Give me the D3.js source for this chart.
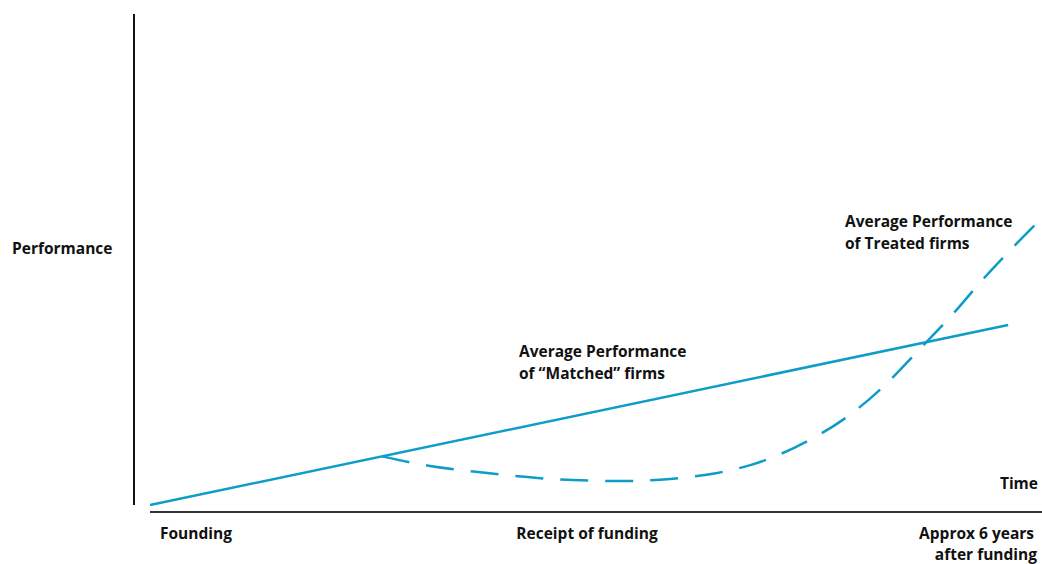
<!DOCTYPE html>
<html><head><meta charset="utf-8">
<script src="https://cdn.jsdelivr.net/npm/d3@7"></script>
<style>
body{margin:0;background:#fff;}
text{font-family:"Open Sans",sans-serif;font-weight:700;font-size:15.5px;fill:#111;}
</style></head>
<body><svg id="c" width="1042" height="564"></svg>
<script>
// Schematic data (abstract units: time 0..100, performance 0..100)
const matchedTime = [0, 96.2];
const matchedPerf = [0, 60];
const treatedTime = [26.0, 31.4, 36.8, 42.3, 47.4, 52.9, 58.3, 63.6, 67.3, 73.7, 78.3, 82.4, 86.3, 89.9, 93.4, 97.2, 100];
const treatedPerf = [16.2, 13.0, 11.0, 9.3, 8.3, 8.0, 8.7, 10.7, 13.3, 21.3, 29.7, 40.0, 52.0, 63.3, 75.3, 87.3, 95.7];
const xTickLabels = ["Founding", "Receipt of funding", "Approx 6 years|after funding"];

const svg = d3.select("#c");
const x = d3.scaleLinear().domain([0, 100]).range([150, 1042]);
const y = d3.scaleLinear().domain([0, 100]).range([505, 205]);
const color = "#0e9dc6";

// axes lines
svg.append("line").attr("x1",134).attr("x2",134).attr("y1",14).attr("y2",505)
  .attr("stroke","#111").attr("stroke-width",2);
svg.append("line").attr("x1",150).attr("x2",1042).attr("y1",512).attr("y2",512)
  .attr("stroke","#333").attr("stroke-width",2);

const line = d3.line().x(d=>x(d[0])).y(d=>y(d[1]));
const lineCurve = d3.line().x(d=>x(d[0])).y(d=>y(d[1])).curve(d3.curveMonotoneX);

svg.append("path").datum(matchedTime.map((t,i)=>[t,matchedPerf[i]]))
  .attr("d", line).attr("fill","none").attr("stroke",color).attr("stroke-width",2.5);
svg.append("path").datum(treatedTime.map((t,i)=>[t,treatedPerf[i]]))
  .attr("d", lineCurve).attr("fill","none").attr("stroke",color).attr("stroke-width",2.5)
  .attr("stroke-dasharray","28,17");

// labels
svg.append("text").attr("x",12).attr("y",254).text("Performance");
svg.append("text").attr("x",1038).attr("y",489).attr("text-anchor","end").text("Time");
svg.append("text").attr("x",160).attr("y",539).text(xTickLabels[0]);
svg.append("text").attr("x",587).attr("y",539).attr("text-anchor","middle").text(xTickLabels[1]);
const l3 = xTickLabels[2].split("|");
svg.append("text").attr("x",1034).attr("y",539).attr("text-anchor","end").text(l3[0]);
svg.append("text").attr("x",1037).attr("y",560).attr("text-anchor","end").text(l3[1]);

svg.append("text").attr("x",519).attr("y",357).text("Average Performance");
svg.append("text").attr("x",519).attr("y",379).text("of “Matched” firms");
svg.append("text").attr("x",845).attr("y",227).text("Average Performance");
svg.append("text").attr("x",845).attr("y",249).text("of Treated firms");
</script></body></html>
